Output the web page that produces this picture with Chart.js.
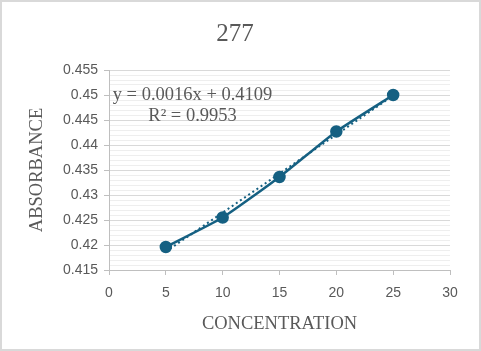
<!DOCTYPE html>
<html>
<head>
<meta charset="utf-8">
<script src="https://cdn.jsdelivr.net/npm/chart.js@4"></script>
<style>
  html, body { margin: 0; padding: 0; background: #fff; }
  #wrap { width: 481px; height: 351px; }
</style>
</head>
<body>
<div id="wrap"><canvas id="absChart" width="481" height="351"></canvas></div>
<script>
const concentration = [5, 10, 15, 20, 25];
const absorbance = [0.4196, 0.4255, 0.4336, 0.4427, 0.4500];
const xTicks = [0, 5, 10, 15, 20, 25, 30];
const yTicks = [0.415, 0.42, 0.425, 0.43, 0.435, 0.44, 0.445, 0.45, 0.455];
const trendText = ['y = 0.0016x + 0.4109', 'R\u00b2 = 0.9953'];

// least squares trendline from the data
const n = concentration.length;
const mx = concentration.reduce((a, b) => a + b, 0) / n;
const my = absorbance.reduce((a, b) => a + b, 0) / n;
let sxy = 0, sxx = 0;
concentration.forEach((x, i) => { sxy += (x - mx) * (absorbance[i] - my); sxx += (x - mx) * (x - mx); });
const slope = sxy / sxx;
const icpt = my - slope * mx;
const trend = [concentration[0], concentration[n - 1]].map(x => ({ x: x, y: icpt + slope * x }));

const blue = '#156082';
const grey = '#595959';

const frame = {
    id: 'frame',
    beforeDraw(chart) {
        const c = chart.ctx;
        c.save();
        c.fillStyle = '#fff';
        c.fillRect(0, 0, chart.width, chart.height);
        c.strokeStyle = '#d9d9d9';
        c.lineWidth = 2;
        c.strokeRect(1, 1, chart.width - 2, chart.height - 2);
        c.restore();
    },
    afterDatasetsDraw(chart) {
        const c = chart.ctx;
        const xs = chart.scales.x, ys = chart.scales.y;
        c.save();
        c.fillStyle = grey;
        c.font = '18.5px "Liberation Serif"';
        c.textAlign = 'center';
        c.textBaseline = 'middle';
        const cx = xs.getPixelForValue(7.35);
        c.fillText(trendText[0], cx, ys.getPixelForValue(0.45));
        c.fillText(trendText[1], cx, ys.getPixelForValue(0.4458));
        c.restore();
    }
};

const ctx = document.getElementById('absChart').getContext('2d');
const chart = new Chart(ctx, {
    type: 'scatter',
    data: {
        datasets: [{
            label: 'Absorbance',
            data: concentration.map((x, i) => ({ x: x, y: absorbance[i] })),
            showLine: true,
            borderColor: blue,
            backgroundColor: blue,
            borderWidth: 2.5,
            pointRadius: 5,
            pointHoverRadius: 5,
            tension: 0.15,
            order: 1
        }, {
            label: 'Linear',
            data: trend,
            showLine: true,
            borderColor: blue,
            borderWidth: 2,
            borderDash: [2, 3],
            pointRadius: 0,
            order: 2
        }]
    },
    options: {
        responsive: false,
        animation: false,
        layout: { padding: { left: 20, right: 31, top: 0, bottom: 16 } },
        plugins: {
            legend: { display: false },
            tooltip: { enabled: false },
            title: {
                display: true,
                text: '277',
                color: grey,
                font: { family: 'Liberation Serif', size: 25, weight: 'normal' },
                padding: { top: 19, bottom: 21 }
            }
        },
        scales: {
            x: {
                type: 'linear',
                min: 0, max: 30,
                afterBuildTicks: s => { s.ticks = xTicks.map(v => ({ value: v })); },
                ticks: { color: grey, font: { family: 'Liberation Sans', size: 14 }, padding: 10 },
                grid: { drawOnChartArea: false, drawTicks: true, tickLength: 5, tickColor: '#bfbfbf' },
                border: { color: '#bfbfbf', width: 1 },
                title: {
                    display: true, text: 'CONCENTRATION', color: grey,
                    font: { family: 'Liberation Serif', size: 18.5 },
                    padding: { top: 1, bottom: 0 }
                }
            },
            y: {
                min: 0.415, max: 0.455,
                afterBuildTicks: s => {
                    const t = [];
                    for (let k = 415; k <= 455; k++) t.push({ value: k / 1000 });
                    s.ticks = t;
                },
                afterFit: s => { s.width = 89; },
                ticks: {
                    color: grey, font: { family: 'Liberation Sans', size: 14 }, padding: 6,
                    autoSkip: false,
                    callback: v => {
                        const k = Math.round(v * 1000);
                        if (k % 5 !== 0) return '';
                        const hit = yTicks.find(t => Math.round(t * 1000) === k);
                        return hit === undefined ? '' : String(hit);
                    }
                },
                grid: {
                    color: c => (Math.round(c.tick.value * 1000) % 5 === 0 ? '#d9d9d9' : '#eeeeee'),
                    lineWidth: 1,
                    tickLength: 5,
                    tickColor: c => (Math.round(c.tick.value * 1000) % 5 === 0 ? '#bfbfbf' : 'rgba(0,0,0,0)')
                },
                border: { color: '#bfbfbf', width: 1 },
                title: {
                    display: true, text: 'ABSORBANCE', color: grey,
                    font: { family: 'Liberation Serif', size: 18.5 },
                    padding: { top: 6, bottom: 4 }
                }
            }
        }
    },
    plugins: [frame]
});
</script>
</body>
</html>
